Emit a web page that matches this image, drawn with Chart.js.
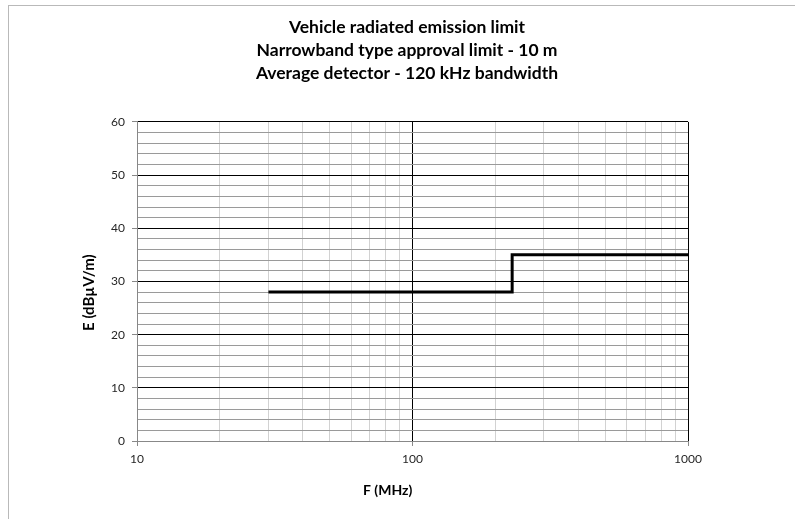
<!DOCTYPE html>
<html>
<head>
<meta charset="utf-8">
<script src="https://cdn.jsdelivr.net/npm/chart.js@4/dist/chart.umd.min.js"></script>
<style>
  html, body { margin: 0; padding: 0; background: #fff; }
  #wrap { position: relative; width: 795px; height: 519px; overflow: hidden; }
  #frame { position: absolute; left: 8px; top: 5px; width: 900px; height: 600px;
           border-left: 1px solid #b9b9b9; border-top: 1px solid #b9b9b9; }
  canvas { position: absolute; left: 0; top: 0; }
</style>
</head>
<body>
<div id="wrap">
  <div id="frame"></div>
  <canvas id="c" width="795" height="519"></canvas>
</div>
<script>
// ---- data ----
const titleLines = [
  'Vehicle radiated emission limit',
  'Narrowband type approval limit - 10 m',
  'Average detector - 120 kHz bandwidth'
];
const xTitle = 'F (MHz)';
const yTitle = 'E (dB\u00B5V/m)';
const freqMHz = [30, 230, 230, 1000];
const limitDb = [28, 28, 35, 35];
const xGridValues = [10, 20, 30, 40, 50, 60, 70, 80, 90, 100, 200, 300, 400, 500, 600, 700, 800, 900, 1000];
const xTickLabels = [10, 100, 1000];
const yMin = 0, yMax = 60, yMinorStep = 2, yMajorStep = 10;

const FONT = 'Lato, "Open Sans", sans-serif';

const points = freqMHz.map((f, i) => ({ x: f, y: limitDb[i] }));

// Axis titles placed where the reference puts them (relative to the plot area)
const axisTitlesPlugin = {
  id: 'axisTitles',
  afterDraw(chart) {
    const { ctx, chartArea: a } = chart;
    ctx.save();
    ctx.fillStyle = '#000';
    ctx.textAlign = 'center';
    ctx.textBaseline = 'middle';
    // x title
    ctx.font = 'bold 14px ' + FONT;
    ctx.fillText(xTitle, a.left + (a.right - a.left) * 0.455, a.bottom + 49);
    // y title
    ctx.font = 'bold 15px ' + FONT;
    ctx.translate(a.left - 48, a.top + (a.bottom - a.top) * 0.535);
    ctx.rotate(-Math.PI / 2);
    ctx.fillText(yTitle, 0, 0);
    ctx.restore();
  }
};

new Chart(document.getElementById('c'), {
  type: 'scatter',
  data: {
    datasets: [{
      label: 'Limit',
      data: points,
      showLine: true,
      borderColor: '#000',
      borderWidth: 3,
      pointRadius: 0,
      pointHoverRadius: 0,
      fill: false,
      tension: 0
    }]
  },
  plugins: [axisTitlesPlugin],
  options: {
    responsive: false,
    animation: false,
    events: [],
    layout: { padding: { left: 19, right: 0, top: 0, bottom: 0 } },
    plugins: {
      legend: { display: false },
      tooltip: { enabled: false },
      title: {
        display: true,
        text: titleLines,
        color: '#000',
        font: { family: FONT, size: 17.5, weight: 'bold', lineHeight: 1.33 },
        padding: { top: 15.4, bottom: 36.7 }
      }
    },
    scales: {
      x: {
        type: 'logarithmic',
        position: 'bottom',
        min: 10,
        max: 1000,
        afterBuildTicks: (s) => { s.ticks = xGridValues.map(v => ({ value: v })); },
        afterFit: (s) => { s.height = 78; },
        ticks: {
          autoSkip: false,
          maxRotation: 0,
          padding: 6,
          color: '#262626',
          font: { family: FONT, size: 12 },
          callback: (v) => xTickLabels.includes(v) ? String(v) : ''
        },
        grid: {
          drawTicks: true,
          tickLength: 5,
          lineWidth: 1,
          color: (ctx) => {
            const v = ctx.tick && ctx.tick.value;
            if (v === 100 || v === 1000) return '#000';
            if (v === 10) return '#888';
            return '#d2d2d2';
          },
          tickColor: (ctx) => {
            const v = ctx.tick && ctx.tick.value;
            return xTickLabels.includes(v) ? '#888' : 'rgba(0,0,0,0)';
          }
        },
        border: { display: true, color: '#888', width: 1 },
        title: { display: false, text: xTitle }
      },
      y: {
        type: 'linear',
        position: 'left',
        min: yMin,
        max: yMax,
        afterFit: (s) => { s.width = 118; },
        ticks: {
          stepSize: yMinorStep,
          autoSkip: false,
          padding: 7,
          color: '#262626',
          font: { family: FONT, size: 12 },
          callback: (v) => (v % yMajorStep === 0) ? String(v) : ''
        },
        grid: {
          drawTicks: true,
          tickLength: 5,
          lineWidth: 1,
          color: (ctx) => {
            const v = ctx.tick && ctx.tick.value;
            if (v === 0) return '#888';
            if (v % yMajorStep === 0) return '#000';
            return '#9a9a9a';
          },
          tickColor: (ctx) => {
            const v = ctx.tick && ctx.tick.value;
            return (v % yMajorStep === 0) ? '#888' : 'rgba(0,0,0,0)';
          }
        },
        border: { display: true, color: '#888', width: 1 },
        title: { display: false, text: yTitle }
      },
      yRightSpace: {
        type: 'linear',
        position: 'right',
        display: true,
        min: 0,
        max: 1,
        afterFit: (s) => { s.width = 107; },
        ticks: { display: false },
        grid: { display: false, drawTicks: false },
        border: { display: false }
      }
    }
  }
});
</script>
</body>
</html>
